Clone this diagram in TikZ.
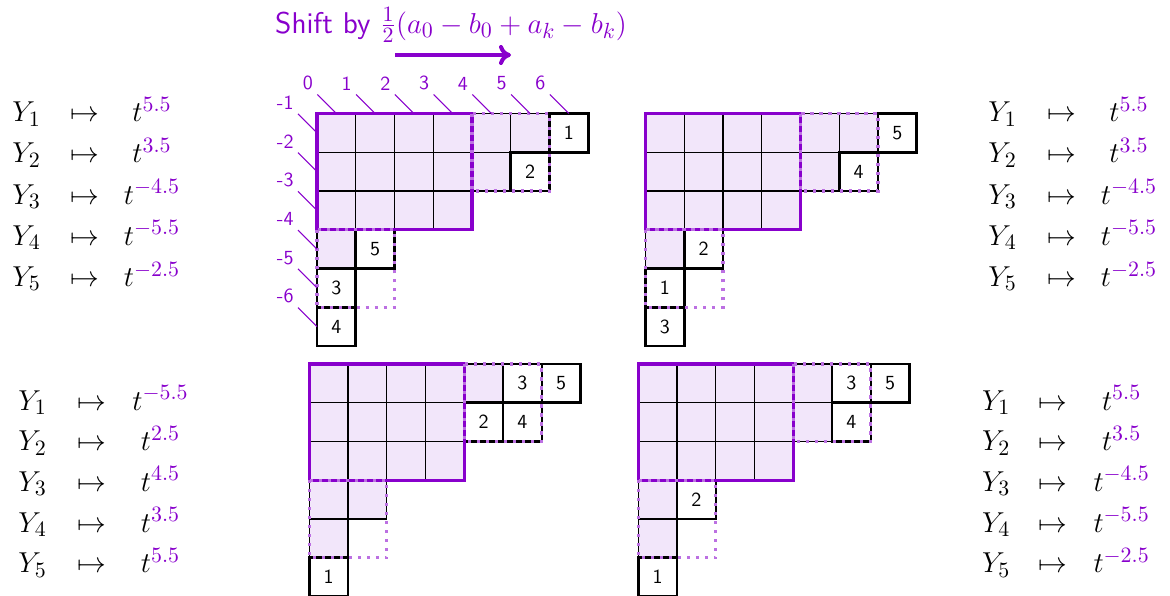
\documentclass[tikz,border=0pt]{standalone}
\usetikzlibrary{arrows.meta}
\definecolor{pp}{RGB}{136,0,204}
\definecolor{ppfill}{RGB}{242,230,250}
\definecolor{ppdot}{RGB}{188,112,226}
\tikzset{
  cellfill/.style={fill=ppfill, draw=black, line width=0.6pt},
  bigborder/.style={draw=pp, line width=1.6pt},
  numbox/.style={draw=black, fill=white, line width=1.3pt, minimum width=19.375pt, minimum height=19.375pt, inner sep=0pt, font=\fontsize{10}{12}\selectfont\sffamily},
  dotrect/.style={draw=ppdot, line width=1.6pt, dash pattern=on 1.6pt off 2.9pt},
  lbl/.style={text=pp, font=\fontsize{10}{12}\selectfont\sffamily, anchor=south east, inner sep=2pt},
  tick/.style={draw=pp, line width=0.6pt},
  mapfont/.style={font=\fontsize{15.4}{18}\selectfont, inner sep=0pt},
}
\newcommand{\drawdiag}[3]{%
  \foreach \c in {0,...,3}{\foreach \r in {0,1,2}{\filldraw[cellfill] (\c,\r) rectangle ++(1,1);}}
  \foreach \c/\r in {#1}{\filldraw[cellfill] (\c,\r) rectangle ++(1,1);}
  \foreach \c/\r/\n in {#2}{\node[numbox] (#3\n) at (\c+0.5,\r+0.5) {\n};}
  \draw[bigborder] (0,0) rectangle (4,3);
  \draw[dotrect] (4,0) rectangle (6,2);
  \draw[dotrect] (0,3) rectangle (2,5);
}
\newcommand{\maplist}[7]{%
  \foreach \e [count=\k] in {#6}{%
    \node[mapfont, anchor=base west] (#7Y\k) at (#1,{#2+(\k-1)*#5}) {$Y_{\k}$};
    \node[mapfont, anchor=base] (#7M\k) at (#3,{#2+(\k-1)*#5}) {$\mapsto$};
    \node[mapfont, anchor=base] (#7T\k) at (#4,{#2+(\k-1)*#5}) {$t^{\color{pp}\e}$};
  }
}
\begin{document}
\begin{tikzpicture}[x=0.5pt, y=-0.5pt]
\useasboundingbox (0,0) rectangle (1170,595);

% title and arrow
\node[anchor=base, text=pp, font=\fontsize{15}{17}\selectfont\sffamily] (shift) at (451,33) {Shift by $\frac{1}{2}(a_0-b_0+a_k-b_k)$};
\coordinate (arrS) at (395,55);
\coordinate (arrE) at (511,55);
\draw[pp, line width=2pt, -{To[length=6pt,width=10pt]}] (arrS) -- (arrE);

% top left
\begin{scope}[xshift=158.5pt, yshift=-56.75pt, x=19.375pt, y=-19.375pt]
  \drawdiag{4/0,5/0,4/1,0/3}{6/0/1,5/1/2,1/3/5,0/4/3,0/5/4}{tl}
  \foreach \j in {0,...,6}{
    \coordinate (ce\j) at (\j+0.5,0);
    \coordinate (ct\j) at (\j+0.01,-0.49);
    \draw[tick] (ce\j) -- (ct\j);
    \node[lbl] (cl\j) at (ct\j) {\j};
  }
  \foreach \i in {1,...,6}{
    \coordinate (re\i) at (0,\i-0.5);
    \coordinate (rt\i) at (-0.49,\i-0.99);
    \draw[tick] (re\i) -- (rt\i);
    \node[lbl] (rl\i) at (rt\i) {-\i};
  }
\end{scope}

% top right
\begin{scope}[xshift=322.75pt, yshift=-56.75pt, x=19.375pt, y=-19.375pt]
  \drawdiag{4/0,5/0,4/1,0/3}{6/0/5,5/1/4,1/3/2,0/4/1,0/5/3}{tr}
\end{scope}

% bottom left
\begin{scope}[xshift=154.65pt, yshift=-182pt, x=19.375pt, y=-19.375pt]
  \drawdiag{4/0,0/3,1/3,0/4}{5/0/3,6/0/5,4/1/2,5/1/4,0/5/1}{bl}
\end{scope}

% bottom right
\begin{scope}[xshift=319.15pt, yshift=-182pt, x=19.375pt, y=-19.375pt]
  \drawdiag{4/0,4/1,0/3,0/4}{5/0/3,6/0/5,5/1/4,1/3/2,0/5/1}{br}
\end{scope}

% maps
\maplist{12}{121.7}{84.5}{152}{41.2}{5.5,3.5,-4.5,-5.5,-2.5}{mtl}
\maplist{988}{121.7}{1061.7}{1129}{41.2}{5.5,3.5,-4.5,-5.5,-2.5}{mtr}
\maplist{18}{410}{92}{160.5}{40.7}{-5.5,2.5,4.5,3.5,5.5}{mbl}
\maplist{981.7}{410}{1053}{1121.6}{40.7}{5.5,3.5,-4.5,-5.5,-2.5}{mbr}
\end{tikzpicture}
\end{document}
